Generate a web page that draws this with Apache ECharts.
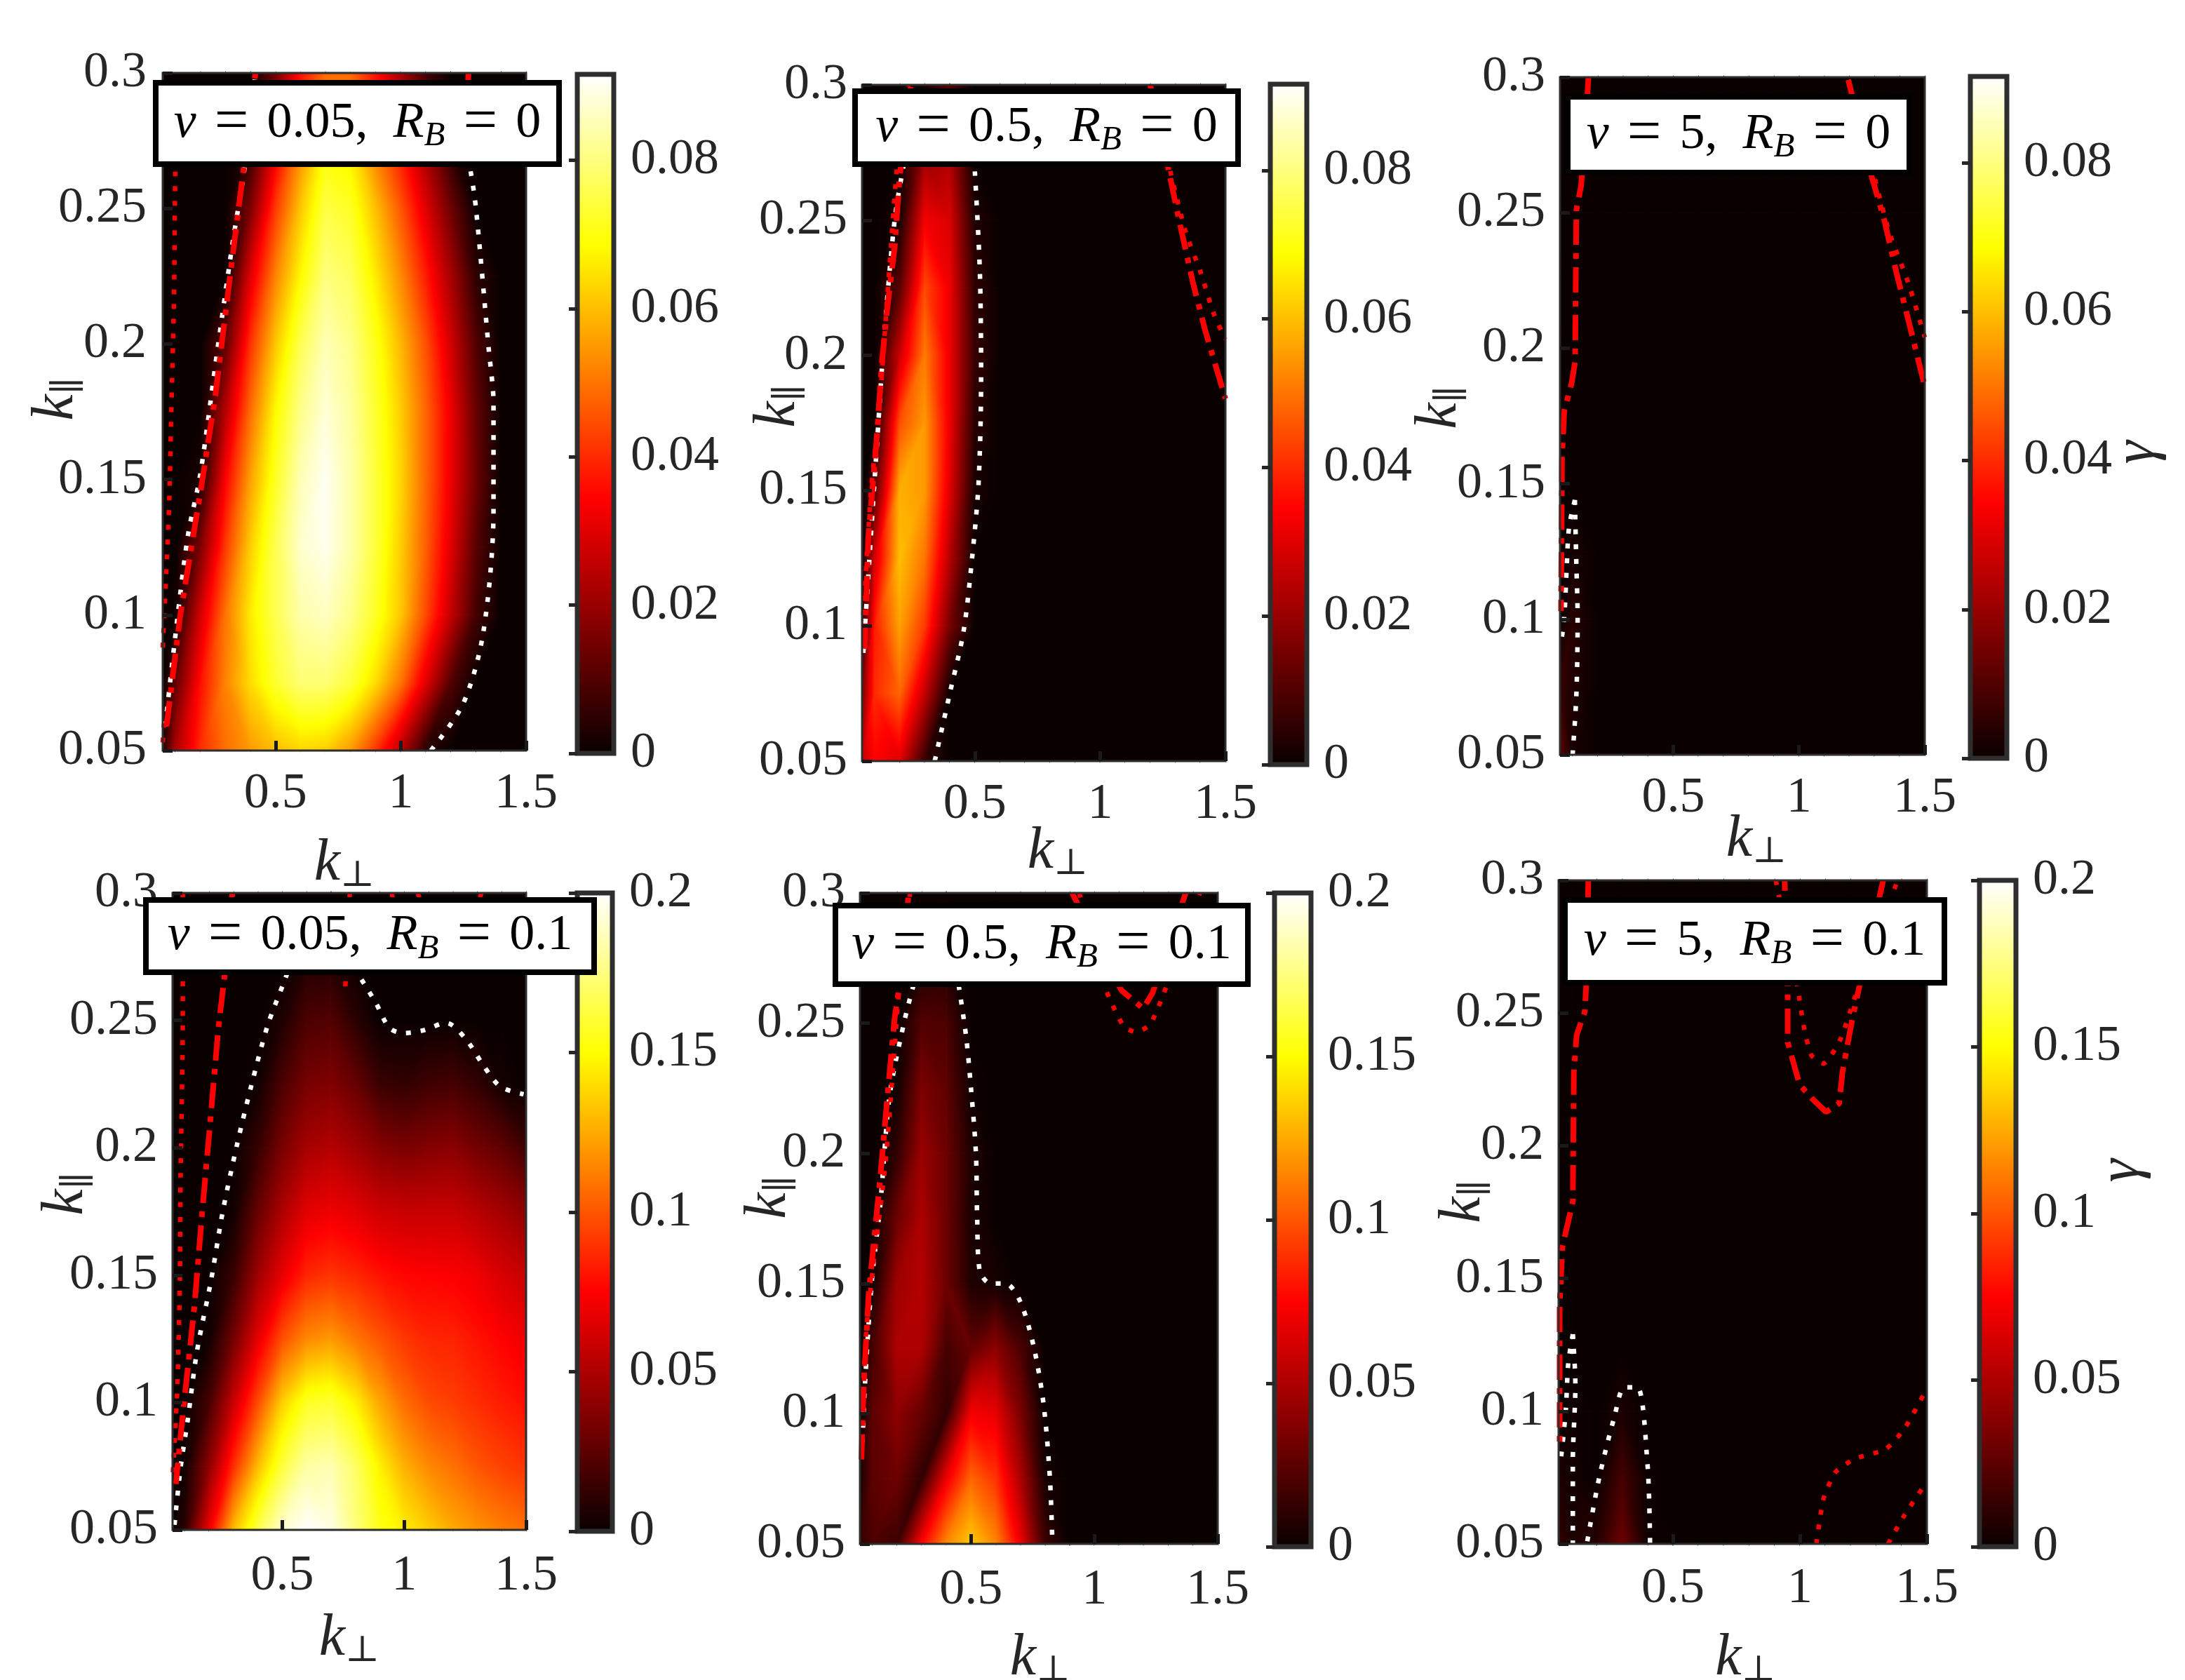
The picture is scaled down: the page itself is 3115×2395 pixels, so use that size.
<!DOCTYPE html>
<html>
<head>
<meta charset="utf-8">
<title>growth rate maps</title>
<script src="https://cdn.jsdelivr.net/npm/echarts@6/dist/echarts.min.js"></script>
<style>
html, body { margin: 0; background: #fff; }
#chart { width: 3115px; height: 2395px; }
</style>
</head>
<body>
<div id="chart"></div>
<script>
// grid the growth rates were read on
var kPerp = [0.05, 0.1, 0.2, 0.3, 0.4, 0.5, 0.6, 0.7, 0.8, 0.9, 1, 1.1, 1.2, 1.3, 1.4, 1.5];
var kPar = [0.05, 0.075, 0.1, 0.125, 0.15, 0.175, 0.2, 0.225, 0.25, 0.275, 0.3];

// gamma, one row per kPar (bottom to top), one value per kPerp
var gamma1 = [
  [.004, .022, .040, .049, .055, .060, .063, .062, .055, .041, .024, .004, 0, 0, 0, 0],
  [0, .012, .036, .052, .064, .073, .079, .079, .074, .064, .050, .030, .010, 0, 0, 0],
  [0, .001, .028, .050, .066, .076, .084, .086, .081, .072, .061, .044, .026, .008, 0, 0],
  [0, 0, .016, .042, .062, .076, .087, .090, .084, .074, .062, .047, .030, .011, 0, 0],
  [0, 0, .002, .034, .056, .072, .085, .0905, .084, .074, .063, .048, .032, .014, 0, 0],
  [0, 0, 0, .024, .049, .068, .081, .088, .083, .073, .062, .048, .032, .013, 0, 0],
  [0, 0, 0, .012, .041, .061, .076, .085, .081, .071, .059, .045, .028, .010, 0, 0],
  [0, 0, 0, 0, .030, .052, .068, .080, .077, .066, .053, .038, .022, .005, 0, 0],
  [0, 0, 0, 0, .016, .042, .061, .075, .072, .060, .046, .030, .014, 0, 0, 0],
  [0, 0, 0, 0, .004, .030, .052, .068, .065, .050, .036, .020, .004, 0, 0, 0],
  [0, 0, 0, 0, 0, .014, .036, .048, .048, .036, .022, .008, 0, 0, 0, 0]
];
var gamma2 = [
  [.026, .034, .030, .006, 0, 0, 0, 0, 0, 0, 0, 0, 0, 0, 0, 0],
  [.016, .040, .048, .026, 0, 0, 0, 0, 0, 0, 0, 0, 0, 0, 0, 0],
  [.004, .038, .056, .042, .015, 0, 0, 0, 0, 0, 0, 0, 0, 0, 0, 0],
  [0, .028, .060, .050, .024, 0, 0, 0, 0, 0, 0, 0, 0, 0, 0, 0],
  [0, .010, .058, .055, .030, .002, 0, 0, 0, 0, 0, 0, 0, 0, 0, 0],
  [0, 0, .045, .055, .032, .004, 0, 0, 0, 0, 0, 0, 0, 0, 0, 0],
  [0, 0, .027, .051, .032, .006, 0, 0, 0, 0, 0, 0, 0, 0, 0, 0],
  [0, 0, .011, .044, .032, .005, 0, 0, 0, 0, 0, 0, 0, 0, 0, 0],
  [0, 0, .002, .033, .029, .003, 0, 0, 0, 0, 0, 0, 0, 0, 0, 0],
  [0, 0, 0, .020, .023, 0, 0, 0, 0, 0, 0, 0, 0, 0, 0, 0],
  [0, 0, 0, .002, .010, 0, 0, 0, 0, 0, 0, 0, 0, 0, 0, 0]
];
var gamma3 = [
  [.012, .002, 0, 0, 0, 0, 0, 0, 0, 0, 0, 0, 0, 0, 0, 0],
  [.006, .003, 0, 0, 0, 0, 0, 0, 0, 0, 0, 0, 0, 0, 0, 0],
  [0, .004, 0, 0, 0, 0, 0, 0, 0, 0, 0, 0, 0, 0, 0, 0],
  [0, .002, 0, 0, 0, 0, 0, 0, 0, 0, 0, 0, 0, 0, 0, 0],
  [0, 0, 0, 0, 0, 0, 0, 0, 0, 0, 0, 0, 0, 0, 0, 0],
  [0, 0, 0, 0, 0, 0, 0, 0, 0, 0, 0, 0, 0, 0, 0, 0],
  [0, 0, 0, 0, 0, 0, 0, 0, 0, 0, 0, 0, 0, 0, 0, 0],
  [0, 0, 0, 0, 0, 0, 0, 0, 0, 0, 0, 0, 0, 0, 0, 0],
  [0, 0, 0, 0, 0, 0, 0, 0, 0, 0, 0, 0, 0, 0, 0, 0],
  [0, 0, 0, 0, 0, 0, 0, 0, 0, 0, 0, 0, 0, 0, 0, 0],
  [0, 0, 0, 0, 0, 0, 0, 0, 0, 0, 0, 0, 0, 0, 0, 0]
];
var gamma4 = [
  [0, .010, .070, .130, .165, .190, .200, .195, .175, .155, .145, .135, .125, .118, .112, .108],
  [0, .002, .040, .088, .130, .162, .182, .185, .170, .146, .127, .115, .108, .100, .094, .090],
  [0, 0, .018, .058, .097, .136, .157, .160, .146, .124, .107, .097, .093, .088, .083, .079],
  [0, 0, .002, .032, .067, .098, .115, .120, .110, .100, .091, .086, .085, .080, .075, .070],
  [0, 0, 0, .014, .045, .068, .086, .090, .086, .080, .076, .075, .074, .070, .063, .058],
  [0, 0, 0, .002, .028, .050, .066, .070, .066, .060, .058, .058, .058, .053, .047, .040],
  [0, 0, 0, 0, .013, .034, .048, .052, .046, .038, .034, .037, .039, .032, .026, .016],
  [0, 0, 0, 0, .002, .020, .033, .036, .028, .015, .012, .016, .018, .012, .003, 0],
  [0, 0, 0, 0, 0, .006, .020, .022, .010, 0, 0, 0, 0, 0, 0, 0],
  [0, 0, 0, 0, 0, 0, .006, .006, 0, 0, 0, 0, 0, 0, 0, 0],
  [0, 0, 0, 0, 0, 0, 0, 0, 0, 0, 0, 0, 0, 0, 0, 0]
];
var gamma5 = [
  [.012, .020, .015, .075, .115, .135, .115, .070, .015, 0, 0, 0, 0, 0, 0, 0],
  [.004, .025, .030, .012, .070, .105, .090, .050, .004, 0, 0, 0, 0, 0, 0, 0],
  [0, .025, .040, .028, .012, .072, .068, .035, 0, 0, 0, 0, 0, 0, 0, 0],
  [0, .018, .050, .050, .018, .028, .040, .020, 0, 0, 0, 0, 0, 0, 0, 0],
  [0, .002, .045, .052, .030, .006, .004, 0, 0, 0, 0, 0, 0, 0, 0, 0],
  [0, 0, .030, .050, .030, .005, 0, 0, 0, 0, 0, 0, 0, 0, 0, 0],
  [0, 0, .012, .044, .030, .006, 0, 0, 0, 0, 0, 0, 0, 0, 0, 0],
  [0, 0, .002, .035, .026, .002, 0, 0, 0, 0, 0, 0, 0, 0, 0, 0],
  [0, 0, 0, .022, .020, 0, 0, 0, 0, 0, 0, 0, 0, 0, 0, 0],
  [0, 0, 0, .004, .006, 0, 0, 0, 0, 0, 0, 0, 0, 0, 0, 0],
  [0, 0, 0, 0, 0, 0, 0, 0, 0, 0, 0, 0, 0, 0, 0, 0]
];
var gamma6 = [
  [.012, .006, .008, .030, .002, 0, 0, 0, 0, 0, 0, 0, 0, 0, 0, 0],
  [.006, .003, 0, .018, .001, 0, 0, 0, 0, 0, 0, 0, 0, 0, 0, 0],
  [0, .002, 0, .005, 0, 0, 0, 0, 0, 0, 0, 0, 0, 0, 0, 0],
  [0, 0, 0, 0, 0, 0, 0, 0, 0, 0, 0, 0, 0, 0, 0, 0],
  [0, 0, 0, 0, 0, 0, 0, 0, 0, 0, 0, 0, 0, 0, 0, 0],
  [0, 0, 0, 0, 0, 0, 0, 0, 0, 0, 0, 0, 0, 0, 0, 0],
  [0, 0, 0, 0, 0, 0, 0, 0, 0, 0, 0, 0, 0, 0, 0, 0],
  [0, 0, 0, 0, 0, 0, 0, 0, 0, 0, 0, 0, 0, 0, 0, 0],
  [0, 0, 0, 0, 0, 0, 0, 0, 0, 0, 0, 0, 0, 0, 0, 0],
  [0, 0, 0, 0, 0, 0, 0, 0, 0, 0, 0, 0, 0, 0, 0, 0],
  [0, 0, 0, 0, 0, 0, 0, 0, 0, 0, 0, 0, 0, 0, 0, 0]
];

// contour lines, [kPerp, kPar]
var white1 = [
  [[.06, .059], [.10, .092], [.15, .129], [.2, .152], [.27, .199], [.33, .238], [.375, .264], [.42, .30]],
  [[1.12, .05], [1.25, .0675], [1.33, .094], [1.37, .139], [1.37, .178], [1.35, .199], [1.30, .25], [1.28, .263], [1.21, .298]]
];
var dash1 = [
  [[.065, .059], [.12, .10], [.205, .148], [.26, .181], [.32, .226], [.365, .259], [.42, .30]],
  [[1.27, .30], [1.26, .28]]
];
var dot1 = [
  [[.05, .088], [.075, .139], [.085, .178], [.095, .217], [.10, .263], [.11, .30]],
  [[.05, .053], [.055, .06]]
];

var white2 = [
  [[.055, .09], [.085, .133], [.11, .168], [.14, .209], [.18, .25], [.215, .27], [.275, .30]],
  [[.34, .05], [.40, .075], [.455, .098], [.49, .126], [.515, .153], [.525, .192], [.52, .231], [.50, .268]]
];
var dash2 = [
  [[.06, .0915], [.075, .133], [.105, .165], [.13, .198], [.15, .217], [.18, .24], [.2, .266], [.245, .30]],
  [[1.2, .30], [1.27, .27], [1.315, .25], [1.37, .227], [1.42, .209], [1.5, .184]]
];
var dot2 = [
  [[.055, .104], [.085, .149], [.12, .182], [.155, .227], [.19, .27], [.235, .30]],
  [[1.2, .30], [1.275, .27], [1.34, .246], [1.4, .231], [1.455, .215], [1.5, .206]]
];

var white3 = [
  [[.109, .144], [.115, .12], [.12, .101], [.115, .072], [.10, .05]],
  [[.109, .144], [.086, .134], [.077, .12], [.067, .101], [.054, .091]]
];
var dash3 = [
  [[.163, .30], [.15, .28], [.134, .26], [.115, .251], [.11, .195], [.096, .187], [.067, .177], [.058, .16], [.054, .103]],
  [[1.196, .299], [1.29, .263], [1.34, .247], [1.387, .228], [1.425, .214], [1.5, .186]]
];
var dot3 = [
  [[1.196, .299], [1.3, .263], [1.358, .243], [1.435, .224], [1.5, .204]]
];

var white4 = [
  [[.058, .052], [.083, .0745], [.112, .093], [.15, .12], [.208, .148], [.256, .175], [.314, .201], [.372, .224], [.44, .248], [.507, .265], [.546, .275]],
  [[.825, .266], [.883, .257], [.94, .247], [1.0, .245], [1.076, .246], [1.172, .249], [1.25, .243], [1.327, .232], [1.394, .224], [1.49, .221]]
];
var dash4 = [
  [[.295, .30], [.265, .269], [.237, .246], [.208, .214], [.17, .173], [.14, .138], [.112, .113], [.083, .087], [.0635, .068]]
];
var dot4 = [
  [[.092, .30], [.092, .25], [.083, .189], [.08, .148], [.07, .107], [.054, .077], [.05, .07]],
  [[.777, .30], [.758, .262]],
  [[1.056, .30], [1.153, .268]],
  [[.95, .30], [.955, .295]],
  [[1.317, .30], [1.30, .295]]
];

var white5 = [
  [[.06, .089], [.07, .111], [.098, .151], [.133, .181], [.17, .222], [.228, .25], [.267, .2646]],
  [[.45, .2646], [.48, .245], [.50, .225], [.52, .20], [.525, .175], [.535, .155], [.58, .15], [.64, .15], [.70, .143], [.756, .125], [.795, .103], [.82, .075], [.83, .05]]
];
var dash5 = [
  [[.056, .0824], [.065, .111], [.085, .1455], [.133, .1915], [.161, .2215], [.19, .2516], [.209, .2636], [.248, .30]],
  [[.91, .30], [1.11, .2626], [1.198, .2556], [1.236, .2616], [1.37, .30]]
];
var dot5 = [
  [[.058, .09], [.075, .1315], [.104, .157], [.152, .195], [.18, .2275], [.209, .2636], [.253, .30]],
  [[.939, .30], [1.044, .2636], [1.12, .2486], [1.17, .2466], [1.227, .2496], [1.294, .2646], [1.428, .30]]
];

var white6 = [
  [[.106, .129], [.116, .11], [.106, .081], [.106, .05]],
  [[.106, .129], [.088, .118], [.078, .10], [.059, .082]],
  [[.163, .051], [.21, .075], [.27, .098], [.31, .109], [.36, .109], [.40, .08], [.41, .05]]
];
var dash6 = [
  [[.167, .30], [.159, .261], [.153, .2505], [.121, .2417], [.11, .228], [.106, .179], [.065, .162], [.054, .14], [.054, .0867]],
  [[1.328, .30], [1.234, .26], [1.206, .2476], [1.168, .228], [1.155, .216], [1.103, .2127], [1.046, .218], [.999, .223], [.952, .239], [.952, .26], [.94, .30]]
];
var dot6 = [
  [[.905, .30], [.99, .26], [1.018, .2437], [1.046, .234], [1.093, .231], [1.159, .24], [1.215, .2555], [1.385, .30]],
  [[1.065, .05], [1.093, .067], [1.14, .077], [1.215, .082], [1.337, .0857], [1.413, .0936], [1.497, .108]],
  [[1.347, .05], [1.413, .061], [1.497, .073]]
];

var xTicks = [0.5, 1, 1.5];
var yTicks = [0.05, 0.1, 0.15, 0.2, 0.25, 0.3];
var barTicksTop = [0, 0.02, 0.04, 0.06, 0.08];
var barTicksBottom = [0, 0.05, 0.1, 0.15, 0.2];
var barMaxTop = 0.0916;
var barMaxBottom = 0.2;
var nuLabels = ['0.05', '0.5', '5', '0.05', '0.5', '5'];
var rbLabels = ['0', '0', '0', '0.1', '0.1', '0.1'];

// pixel layout of each panel: plot, colorbar, label box, axis name placement
var panels = [
  { plot: [232, 104, 518, 966], bar: [823, 106, 52, 968], box: [222, 118, 575, 116], yMargin: 23, xMargin: 26, xGap: 118, yGap: 107, xShift: 0, yShift: 18, gammaGap: 0, gammaPad: [0, 0, 0, 0], gamma: gamma1, white: white1, dash: dash1, dot: dot1 },
  { plot: [1229, 121, 518, 964], bar: [1811, 120, 52, 970], box: [1219, 130, 546, 104], yMargin: 21, xMargin: 26, xGap: 86, yGap: 75, xShift: 20, yShift: 24, gammaGap: 0, gammaPad: [0, 0, 0, 0], gamma: gamma2, white: white2, dash: dash2, dot: dot2 },
  { plot: [2224, 110, 520, 966], bar: [2809, 109, 52, 972], box: [2235, 138, 487, 108], yMargin: 21, xMargin: 26, xGap: 78, yGap: 127, xShift: 20, yShift: 12, gammaGap: 145, gammaPad: [0, 100, 0, 0], gamma: gamma3, white: white3, dash: dash3, dot: dot3 },
  { plot: [246, 1273, 504, 908], bar: [823, 1273, 50, 910], box: [208, 1283, 639, 103], yMargin: 21, xMargin: 30, xGap: 112, yGap: 107, xShift: 0, yShift: 25, gammaGap: 0, gammaPad: [0, 0, 0, 0], gamma: gamma4, white: white4, dash: dash4, dot: dot4 },
  { plot: [1226, 1273, 510, 928], bar: [1817, 1273, 52, 932], box: [1191, 1291, 588, 112], yMargin: 21, xMargin: 30, xGap: 120, yGap: 85, xShift: 2, yShift: 30, gammaGap: 0, gammaPad: [0, 0, 0, 0], gamma: gamma5, white: white5, dash: dash5, dot: dot5 },
  { plot: [2222, 1255, 525, 946], bar: [2822, 1255, 52, 950], box: [2231, 1283, 541, 118], yMargin: 21, xMargin: 28, xGap: 120, yGap: 91, xShift: 4, yShift: 15, gammaGap: 110, gammaPad: [0, 0, 0, 122], gamma: gamma6, white: white6, dash: dash6, dot: dot6 }
];

var FONT = '"Liberation Serif", "DejaVu Serif", serif';
var TEXT = '#262626';
var LABEL = 72;

// MATLAB hot
function hot(f) {
  f = Math.max(0, Math.min(1, f));
  var r = Math.min(1, 0.04 + 0.96 * f / 0.375);
  var g = Math.max(0, Math.min(1, (f - 0.375) / 0.375));
  var b = Math.max(0, Math.min(1, (f - 0.75) / 0.25));
  return 'rgb(' + Math.round(r * 255) + ',' + Math.round(g * 255) + ',' + Math.round(b * 255) + ')';
}

// one triangle of the heat map, shaded along its own slope
function triangle(p, f) {
  var det = (p[1][0] - p[0][0]) * (p[2][1] - p[0][1]) - (p[2][0] - p[0][0]) * (p[1][1] - p[0][1]);
  var ax = ((f[1] - f[0]) * (p[2][1] - p[0][1]) - (f[2] - f[0]) * (p[1][1] - p[0][1])) / det;
  var ay = ((f[2] - f[0]) * (p[1][0] - p[0][0]) - (f[1] - f[0]) * (p[2][0] - p[0][0])) / det;
  var n = ax * ax + ay * ay;
  var lo = Math.min(f[0], f[1], f[2]);
  var hi = Math.max(f[0], f[1], f[2]);
  var paint;
  if (hi - lo < 1e-6 || n === 0) {
    paint = hot(lo);
  } else {
    var stops = [{ offset: 0, color: hot(lo) }];
    [0.125, 0.25, 0.375, 0.5, 0.625, 0.75, 0.875].forEach(function (b) {
      if (b > lo && b < hi) stops.push({ offset: (b - lo) / (hi - lo), color: hot(b) });
    });
    stops.push({ offset: 1, color: hot(hi) });
    paint = new echarts.graphic.LinearGradient(
      p[0][0] + (lo - f[0]) * ax / n, p[0][1] + (lo - f[0]) * ay / n,
      p[0][0] + (hi - f[0]) * ax / n, p[0][1] + (hi - f[0]) * ay / n,
      stops, true);
  }
  return {
    type: 'polygon',
    silent: true,
    shape: { points: p },
    style: { fill: paint, stroke: paint, lineWidth: 1.2 }
  };
}

function heatItem(max) {
  return function (params, api) {
    var p00 = api.coord([api.value(0), api.value(1)]);
    var p11 = api.coord([api.value(2), api.value(3)]);
    var p10 = [p11[0], p00[1]];
    var p01 = [p00[0], p11[1]];
    var v = [api.value(4) / max, api.value(5) / max, api.value(6) / max, api.value(7) / max];
    var kids;
    // split along the diagonal with the closer values so ridges stay sharp
    if (Math.abs(v[0] - v[3]) <= Math.abs(v[1] - v[2])) {
      kids = [triangle([p00, p10, p11], [v[0], v[1], v[3]]), triangle([p00, p11, p01], [v[0], v[3], v[2]])];
    } else {
      kids = [triangle([p00, p10, p01], [v[0], v[1], v[2]]), triangle([p10, p11, p01], [v[1], v[3], v[2]])];
    }
    return { type: 'group', children: kids };
  };
}

function heatData(gamma) {
  var out = [];
  for (var j = 0; j < kPar.length - 1; j++) {
    for (var i = 0; i < kPerp.length - 1; i++) {
      out.push([kPerp[i], kPar[j], kPerp[i + 1], kPar[j + 1], gamma[j][i], gamma[j][i + 1], gamma[j + 1][i], gamma[j + 1][i + 1]]);
    }
  }
  return out;
}

function barItem(params, api) {
  var a = api.coord([0, 0]);
  var b = api.coord([1, api.value(0)]);
  return {
    type: 'rect',
    silent: true,
    shape: { x: a[0], y: b[1], width: b[0] - a[0], height: a[1] - b[1] },
    style: {
      fill: new echarts.graphic.LinearGradient(0, 1, 0, 0, [
        { offset: 0, color: hot(0) },
        { offset: 0.375, color: hot(0.375) },
        { offset: 0.75, color: hot(0.75) },
        { offset: 1, color: hot(1) }
      ])
    }
  };
}

function mathRich(size) {
  return {
    i: { fontFamily: FONT, fontStyle: 'italic', fontSize: size, color: TEXT },
    n: { fontFamily: FONT, fontSize: size, color: TEXT },
    e: { fontFamily: FONT, fontSize: size * 1.2, color: TEXT, padding: [0, 8, 0, 8] },
    s: { fontFamily: FONT, fontStyle: 'italic', fontSize: size * 0.68, color: TEXT, verticalAlign: 'bottom', padding: [size * 0.42, 0, 0, 0] },
    u: { fontFamily: '"DejaVu Serif", serif', fontSize: size * 0.62, color: TEXT, verticalAlign: 'bottom', padding: [size * 0.42, 0, 0, 0] }
  };
}

var grids = [], xAxes = [], yAxes = [], series = [], graphics = [];

panels.forEach(function (pan, n) {
  var top = n < 3;
  var max = top ? barMaxTop : barMaxBottom;
  grids.push({
    left: pan.plot[0], top: pan.plot[1], width: pan.plot[2], height: pan.plot[3], outerBoundsMode: 'none',
    show: true, z: 5, backgroundColor: 'transparent', borderColor: '#2e2e2e', borderWidth: 3
  });
  xAxes.push({
    gridIndex: n, type: 'value', min: 0.05, max: 1.5, splitLine: { show: false },
    name: '{i|k}{u|⊥}', nameLocation: 'middle', nameGap: pan.xGap, nameMoveOverlap: false,
    nameTextStyle: { rich: mathRich(84), padding: [0, 0, 0, pan.xShift * 2] },
    axisLine: { show: false },
    axisTick: { show: true, inside: true, length: 14, customValues: xTicks, lineStyle: { color: '#1a1a1a', width: 5 } },
    axisLabel: { customValues: xTicks, margin: pan.xMargin, fontFamily: FONT, fontSize: LABEL, color: TEXT, formatter: function (v) { return String(v); } },
    z: 6
  });
  yAxes.push({
    gridIndex: n, type: 'value', min: 0.05, max: 0.3, splitLine: { show: false },
    name: '{i|k}{u|∥}', nameLocation: 'middle', nameGap: pan.yGap, nameMoveOverlap: false,
    nameTextStyle: { rich: mathRich(84), padding: [0, 0, 0, pan.yShift * 2] },
    axisLine: { show: false },
    axisTick: { show: true, inside: true, length: 14, customValues: yTicks, lineStyle: { color: '#1a1a1a', width: 5 } },
    axisLabel: { customValues: yTicks, margin: pan.yMargin, fontFamily: FONT, fontSize: LABEL, color: TEXT, formatter: function (v) { return String(+v.toFixed(2)); } },
    z: 6
  });
  series.push({
    type: 'custom', xAxisIndex: n, yAxisIndex: n, renderItem: heatItem(max), data: heatData(pan.gamma),
    encode: { x: [0, 2], y: [1, 3] }, animation: false, silent: true, z: 2
  });
  function addLines(list, style, smooth) {
    list.forEach(function (pts) {
      series.push({
        type: 'line', xAxisIndex: n, yAxisIndex: n, data: pts, symbol: 'none', smooth: smooth,
        lineStyle: style, animation: false, silent: true, z: 3
      });
    });
  }
  addLines(pan.white, { color: '#fff', width: 6.5, type: [7, 14] }, 0.3);
  addLines(pan.dot, { color: '#f00', width: 6.5, type: [7, 14] }, 0.2);
  addLines(pan.dash, { color: '#f00', width: 8, type: [36, 12, 8, 12] }, false);

  graphics.push({
    type: 'rect', z: 20, silent: true,
    shape: { x: pan.box[0], y: pan.box[1], width: pan.box[2], height: pan.box[3] },
    style: { fill: '#fff', stroke: '#000', lineWidth: 8 }
  });
  graphics.push({
    type: 'text', z: 21, silent: true,
    x: pan.box[0] + pan.box[2] / 2, y: pan.box[1] + pan.box[3] / 2,
    style: {
      text: '{i|ν}{n| }{e|=}{n| ' + nuLabels[n] + ',  }{i|R}{s|B}{n| }{e|=}{n| ' + rbLabels[n] + '}',
      rich: mathRich(72), align: 'center', verticalAlign: 'middle'
    }
  });
});

// colorbars
panels.forEach(function (pan, n) {
  var top = n < 3;
  var ticks = top ? barTicksTop : barTicksBottom;
  var idx = panels.length + n;
  grids.push({
    left: pan.bar[0], top: pan.bar[1], width: pan.bar[2], height: pan.bar[3], outerBoundsMode: 'none',
    show: true, z: 5, backgroundColor: 'transparent', borderColor: '#2e2e2e', borderWidth: 7
  });
  xAxes.push({ gridIndex: idx, type: 'value', min: 0, max: 1, show: false });
  yAxes.push({
    gridIndex: idx, type: 'value', position: 'right', min: 0, max: top ? barMaxTop : barMaxBottom, splitLine: { show: false },
    name: pan.gammaGap ? '{i|γ}' : '', nameLocation: 'middle', nameGap: pan.gammaGap, nameMoveOverlap: false,
    nameTextStyle: { rich: mathRich(84), padding: pan.gammaPad },
    axisLine: { show: false },
    axisTick: { show: true, inside: true, length: 12, customValues: ticks, lineStyle: { color: '#262626', width: 5 } },
    axisLabel: { customValues: ticks, margin: 24, fontFamily: FONT, fontSize: LABEL, color: TEXT, formatter: function (v) { return String(v); } },
    z: 6
  });
  series.push({
    type: 'custom', xAxisIndex: idx, yAxisIndex: idx, renderItem: barItem,
    data: [[top ? barMaxTop : barMaxBottom]], encode: { y: 0 }, animation: false, silent: true, z: 2
  });
});

var myChart = echarts.init(document.getElementById('chart'));
myChart.setOption({
  backgroundColor: '#fff',
  animation: false,
  grid: grids,
  xAxis: xAxes,
  yAxis: yAxes,
  series: series,
  graphic: graphics
});
</script>
</body>
</html>
